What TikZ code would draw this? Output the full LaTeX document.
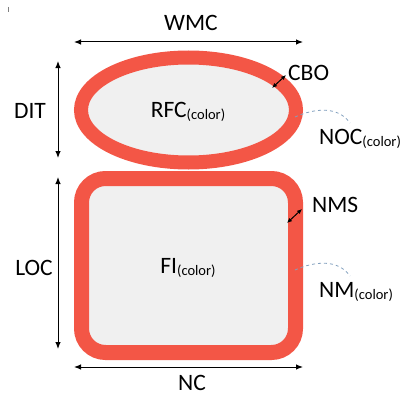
\documentclass[tikz,border=0pt]{standalone}
\usepackage{fontspec}
\setmainfont{Carlito}
\usetikzlibrary{arrows.meta}
\definecolor{ringred}{RGB}{243,86,70}
\definecolor{cellgray}{RGB}{240,240,240}
\definecolor{dashblue}{RGB}{130,160,190}
\newcommand{\colsub}{\raisebox{-0.2ex}{\fontsize{14.5}{15}\selectfont(color)}}
\begin{document}
\begin{tikzpicture}[x=1pt,y=-1pt,
  lbl/.style={inner sep=0pt,font=\fontsize{23.5}{25}\selectfont},
  dim/.style={{Latex[length=7pt,width=5.5pt]}-{Latex[length=7pt,width=5.5pt]},line width=1pt},
  smalldim/.style={{Latex[length=5pt,width=4.5pt]}-{Latex[length=5pt,width=4.5pt]},line width=1pt},
  leader/.style={dashblue,dashed,line width=0.8pt}]
\useasboundingbox (0,0) rectangle (406,396);
% tiny mark
\draw[line width=0.6pt,gray] (8,7) -- (8,12);
% shapes
\draw[ringred,line width=14pt,fill=cellgray] (188.5,110) ellipse [x radius=107.5,y radius=52.5];
\draw[ringred,line width=15pt,fill=cellgray,rounded corners=24pt] (81.5,178.5) rectangle (295.5,352.5);
\node[lbl] (rfc) at (188,112) {RFC\colsub};
\node[lbl] (fi) at (188,268) {FI\colsub};
% dimension labels
\node[lbl] (wmc) at (191,23) {WMC};
\node[lbl] (dit) at (30,111) {DIT};
\node[lbl] (loc) at (34,268) {LOC};
\node[lbl] (nc) at (192,383) {NC};
\node[lbl,anchor=west] (cbo) at (288,73) {CBO};
\node[lbl,anchor=west] (nms) at (312,205) {NMS};
\node[lbl,anchor=west] (noc) at (319,139) {NOC\colsub};
\node[lbl,anchor=west] (nm) at (319,292) {NM\colsub};
% dimension arrows
\coordinate (wl) at (74,42); \coordinate (wr) at (303,42);
\coordinate (dt) at (58,61); \coordinate (db) at (58,158);
\coordinate (lt) at (58,177); \coordinate (lb) at (58,349);
\coordinate (nl) at (74,367); \coordinate (nr) at (303,367);
\draw[dim] (wl) -- (wr);
\draw[dim] (dt) -- (db);
\draw[dim] (lt) -- (lb);
\draw[dim] (nl) -- (nr);
% thickness arrows
\coordinate (c1) at (272,88); \coordinate (c2) at (286,75);
\coordinate (m1) at (287,223); \coordinate (m2) at (302,209);
\draw[smalldim] (c1) -- (c2);
\draw[smalldim] (m1) -- (m2);
% leaders
\coordinate (n1) at (295,117); \coordinate (n2) at (350,123);
\coordinate (k1) at (295,270); \coordinate (k2) at (350,276);
\draw[leader] (n1) .. controls (315,108) and (338,106) .. (n2);
\draw[leader] (k1) .. controls (315,261) and (338,259) .. (k2);
\end{tikzpicture}
\end{document}
